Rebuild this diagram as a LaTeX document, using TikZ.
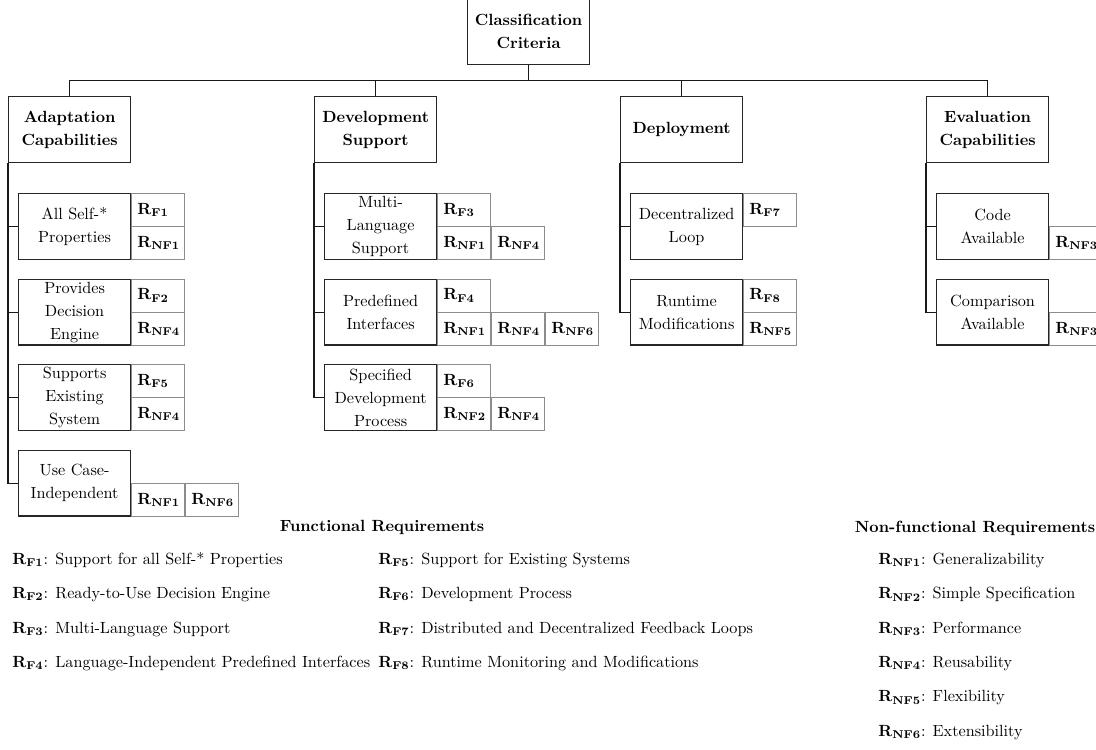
\documentclass[tikz,border=0pt]{standalone}
\usetikzlibrary{positioning}

% requirement label: bold R with a bold subscript
\newcommand{\reqlabel}[1]{\textbf{R}$_{\mathbf{#1}}$}

\tikzset{
  box/.style={draw=black!85, line width=0.75pt, align=center, inner sep=0pt,
              font=\fontsize{10}{14.2}\selectfont},
  topbox/.style={box, font=\fontsize{10}{14.2}\selectfont\bfseries,
                 minimum width=75.3pt, minimum height=40.7pt},
  leaf/.style={box, anchor=north west, minimum width=69.1pt, minimum height=40.7pt},
  cell/.style={draw=black!45, line width=0.6pt, anchor=north west,
               inner xsep=3.5pt, inner ysep=0pt, text width=25.7pt, align=left,
               minimum height=20.4pt},
  conn/.style={draw=black!90, line width=0.7pt},
  legtitle/.style={font=\bfseries, inner sep=0pt},
  leg/.style={anchor=west, inner sep=0pt},
}

\begin{document}
\begin{tikzpicture}[x=0.617pt, y=-0.617pt]
\useasboundingbox (0,0) rectangle (1096,749);
\clip (0,0) rectangle (1096,749);

% ---- root and first level ----
\node[topbox, anchor=south west] (root) at (467,65) {Classification\\Criteria};
\node[topbox, anchor=north west] (adapt) at (8,96) {Adaptation\\Capabilities};
\node[topbox, anchor=north west] (devs) at (314,96) {Development\\Support};
\node[topbox, anchor=north west] (depl) at (620,96) {Deployment};
\node[topbox, anchor=north west] (evalc) at (926,96) {Evaluation\\Capabilities};

\path (root.south) ++(0,15.5) coordinate (bus);
\draw[conn] (root.south) -- (bus);
\draw[conn] (adapt.north) |- (bus) -| (evalc.north);
\draw[conn] (devs.north) -- (devs.north |- bus);
\draw[conn] (depl.north) -- (depl.north |- bus);

% ---- Adaptation Capabilities ----
\node[leaf] (a1) at (18,193) {All Self-*\\Properties};
\node[cell] (a1f) at (a1.north east) {\reqlabel{F1}};
\node[cell, anchor=south west] (a1n) at (a1.south east) {\reqlabel{NF1}};

\node[leaf] (a2) at (18,278.5) {Provides\\Decision\\Engine};
\node[cell] (a2f) at (a2.north east) {\reqlabel{F2}};
\node[cell, anchor=south west] (a2n) at (a2.south east) {\reqlabel{NF4}};

\node[leaf] (a3) at (18,364) {Supports\\Existing\\System};
\node[cell] (a3f) at (a3.north east) {\reqlabel{F5}};
\node[cell, anchor=south west] (a3n) at (a3.south east) {\reqlabel{NF4}};

\node[leaf] (a4) at (18,449.5) {Use Case-\\Independent};
\node[cell, anchor=south west] (a4n) at (a4.south east) {\reqlabel{NF1}};
\node[cell] (a4m) at (a4n.north east) {\reqlabel{NF6}};

\foreach \c in {a1,a2,a3,a4} \draw[conn] (adapt.south west) |- (\c.west);

% ---- Development Support ----
\node[leaf] (d1) at (324,193) {Multi-\\Language\\Support};
\node[cell] (d1f) at (d1.north east) {\reqlabel{F3}};
\node[cell, anchor=south west] (d1n) at (d1.south east) {\reqlabel{NF1}};
\node[cell] (d1m) at (d1n.north east) {\reqlabel{NF4}};

\node[leaf] (d2) at (324,278.5) {Predefined\\Interfaces};
\node[cell] (d2f) at (d2.north east) {\reqlabel{F4}};
\node[cell, anchor=south west] (d2n) at (d2.south east) {\reqlabel{NF1}};
\node[cell] (d2m) at (d2n.north east) {\reqlabel{NF4}};
\node[cell] (d2o) at (d2m.north east) {\reqlabel{NF6}};

\node[leaf] (d3) at (324,364) {Specified\\Development\\Process};
\node[cell] (d3f) at (d3.north east) {\reqlabel{F6}};
\node[cell, anchor=south west] (d3n) at (d3.south east) {\reqlabel{NF2}};
\node[cell] (d3m) at (d3n.north east) {\reqlabel{NF4}};

\foreach \c in {d1,d2,d3} \draw[conn] (devs.south west) |- (\c.west);

% ---- Deployment ----
\node[leaf] (p1) at (630,193) {Decentralized\\Loop};
\node[cell] (p1f) at (p1.north east) {\reqlabel{F7}};

\node[leaf] (p2) at (630,278.5) {Runtime\\Modifications};
\node[cell] (p2f) at (p2.north east) {\reqlabel{F8}};
\node[cell, anchor=south west] (p2n) at (p2.south east) {\reqlabel{NF5}};

\foreach \c in {p1,p2} \draw[conn] (depl.south west) |- (\c.west);

% ---- Evaluation Capabilities ----
\node[leaf] (e1) at (936,193) {Code\\Available};
\node[cell, anchor=south west] (e1n) at (e1.south east) {\reqlabel{NF3}};

\node[leaf] (e2) at (936,278.5) {Comparison\\Available};
\node[cell, anchor=south west] (e2n) at (e2.south east) {\reqlabel{NF3}};

\foreach \c in {e1,e2} \draw[conn] (evalc.south west) |- (\c.west);

% ---- legend: functional requirements ----
\node[legtitle] (ft) at (382,527) {Functional Requirements};
\node[leg] (f1) at (12,560) {\reqlabel{F1}: Support for all Self-* Properties};
\node[leg] (f2) at (12,594.5) {\reqlabel{F2}: Ready-to-Use Decision Engine};
\node[leg] (f3) at (12,629) {\reqlabel{F3}: Multi-Language Support};
\node[leg] (f4) at (12,663.5) {\reqlabel{F4}: Language-Independent Predefined Interfaces};
\node[leg] (f5) at (378,560) {\reqlabel{F5}: Support for Existing Systems};
\node[leg] (f6) at (378,594.5) {\reqlabel{F6}: Development Process};
\node[leg] (f7) at (378,629) {\reqlabel{F7}: Distributed and Decentralized Feedback Loops};
\node[leg] (f8) at (378,663.5) {\reqlabel{F8}: Runtime Monitoring and Modifications};

% ---- legend: non-functional requirements ----
\node[legtitle] (nt) at (975,528) {Non-functional Requirements};
\node[leg] (n1) at (878,560) {\reqlabel{NF1}: Generalizability};
\node[leg] (n2) at (878,594.5) {\reqlabel{NF2}: Simple Specification};
\node[leg] (n3) at (878,629) {\reqlabel{NF3}: Performance};
\node[leg] (n4) at (878,663.5) {\reqlabel{NF4}: Reusability};
\node[leg] (n5) at (878,698) {\reqlabel{NF5}: Flexibility};
\node[leg] (n6) at (878,732.5) {\reqlabel{NF6}: Extensibility};
\end{tikzpicture}
\end{document}
